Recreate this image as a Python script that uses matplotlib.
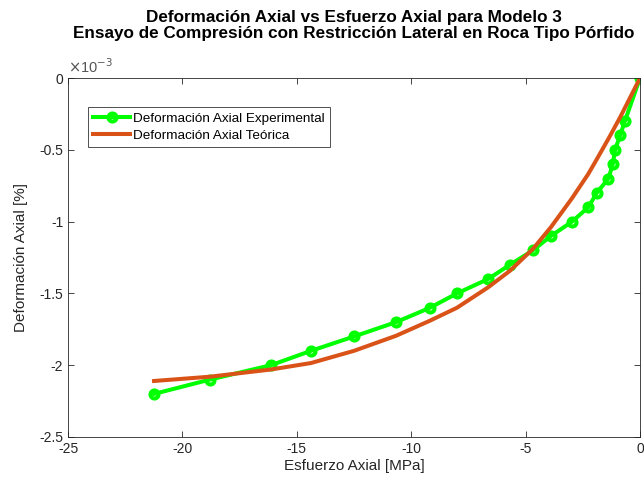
import matplotlib
matplotlib.use("Agg")
import matplotlib.pyplot as plt
from matplotlib.ticker import FuncFormatter, MultipleLocator

plt.rcParams['font.family'] = ['Liberation Sans', 'DejaVu Sans']
plt.rcParams['axes.unicode_minus'] = False

# Esfuerzo axial [MPa]
esfuerzo = [-21.24, -18.79, -16.13, -14.38, -12.50, -10.66, -9.18, -8.00,
            -6.64, -5.68, -4.68, -3.89, -2.97, -2.26, -1.89, -1.38, -1.19,
            -1.09, -0.87, -0.66, 0.0]
# Deformación axial experimental [x1e-3 %]
def_exp = [-2.2, -2.1, -2.0, -1.9, -1.8, -1.7, -1.6, -1.5, -1.4, -1.3, -1.2,
           -1.1, -1.0, -0.9, -0.8, -0.7, -0.6, -0.5, -0.4, -0.3, 0.0]
# Deformación axial teórica [x1e-3 %]
def_teo = [-2.11, -2.08, -2.03, -1.985, -1.90, -1.795, -1.69, -1.60, -1.458,
           -1.342, -1.19, -1.038, -0.837, -0.668, -0.566, -0.423, -0.368,
           -0.338, -0.274, -0.208, 0.0]

escala = 1e-3
fig = plt.figure(figsize=(6.44, 4.87), dpi=100)
ax = fig.add_axes([0.1056, 0.1027, 0.8882, 0.7371])

ax.plot(esfuerzo, [v * escala for v in def_exp], '-o', color='#00FF00',
        lw=2.9, ms=5.8, mew=2.9, mfc='none', label='Deformación Axial Experimental')
ax.plot(esfuerzo, [v * escala for v in def_teo], '-', color='#D95319',
        lw=2.9, label='Deformación Axial Teórica')

ax.set_xlim(-25, 0)
ax.set_ylim(-2.5e-3, 0)
ax.xaxis.set_major_locator(MultipleLocator(5))
ax.yaxis.set_major_locator(MultipleLocator(0.5e-3))
ax.yaxis.set_major_formatter(FuncFormatter(lambda v, p: f'{v / escala:g}'))

axis_col = '#262626'
ax.text(0.0, 1.005, r'$\times$10$^{-3}$', transform=ax.transAxes,
        fontsize=10.5, color='#555555', ha='left', va='bottom')

for s in ax.spines.values():
    s.set_color(axis_col)
    s.set_linewidth(0.6)
ax.tick_params(direction='in', length=4, width=0.6, colors=axis_col,
               labelsize=10, top=True, right=True)

ax.set_xlabel('Esfuerzo Axial [MPa]', fontsize=11, color=axis_col, labelpad=2)
ax.set_ylabel('Deformación Axial [%]', fontsize=11, color=axis_col, labelpad=8)
ax.set_title('Deformación Axial vs Esfuerzo Axial para Modelo 3\n'
             'Ensayo de Compresión con Restricción Lateral en Roca Tipo Pórfido',
             fontsize=12.3, fontweight='bold', pad=29, linespacing=1.1)

leg = ax.legend(loc='upper left', bbox_to_anchor=(0.035, 0.919), borderaxespad=0,
                fontsize=9.7, frameon=True, fancybox=False, handlelength=2.7,
                handletextpad=0.25, borderpad=0.4, labelspacing=0.35)
leg.get_frame().set_edgecolor('black')
leg.get_frame().set_linewidth(0.6)

fig.savefig('out.png', dpi=100)
